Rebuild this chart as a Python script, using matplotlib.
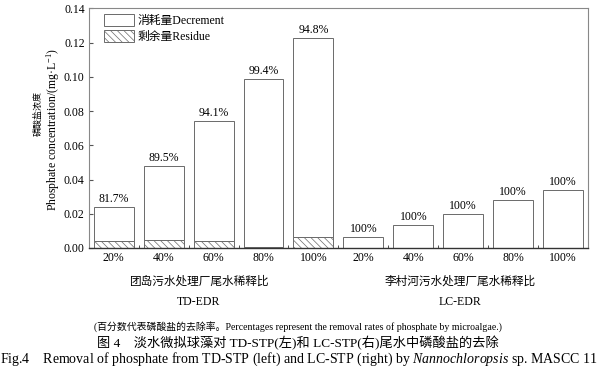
import numpy as np
import matplotlib.pyplot as plt
from matplotlib.patches import Patch

plt.rcParams['font.family'] = ['Liberation Serif', 'Noto Sans CJK SC']
plt.rcParams['mathtext.fontset'] = 'custom'
plt.rcParams['mathtext.it'] = 'Liberation Serif:italic'
plt.rcParams['mathtext.rm'] = 'Liberation Serif'
plt.rcParams['hatch.color'] = '#c4c4c4'
plt.rcParams['hatch.linewidth'] = 0.5

# data (mg/L)
ratios = ['20%', '40%', '60%', '80%', '100%']
td_total = [0.0238, 0.0480, 0.0743, 0.0987, 0.1226]
td_residue = [0.0038, 0.0048, 0.0038, 0.0006, 0.0062]
td_rates = ['81.7%', '89.5%', '94.1%', '99.4%', '94.8%']
lc_total = [0.0066, 0.0135, 0.0197, 0.0281, 0.0339]
lc_residue = [0.0, 0.0, 0.0, 0.0, 0.0]
lc_rates = ['100%', '100%', '100%', '100%', '100%']

total = np.array(td_total + lc_total)
residue = np.array(td_residue + lc_residue)
decrement = total - residue
rates = td_rates + lc_rates
xlabels = ratios + ratios
x = np.arange(len(total))

edge = '#6a6a6a'
W, H = 600, 369
fig = plt.figure(figsize=(6, 3.69), dpi=100)
ax = fig.add_axes([0.148, 0.328, 0.832, 0.649])

ax.bar(x, residue, width=0.8, color='white', edgecolor=edge, hatch='\\\\\\\\\\', linewidth=0.7)
ax.bar(x, decrement, bottom=residue, width=0.8, color='white', edgecolor=edge, linewidth=0.7)

for xi, top, lab in zip(x, total, rates):
    ax.annotate(lab, (xi, top), xytext=(0, 1.5), textcoords='offset points',
                ha='center', va='bottom', fontsize=8.5)

ax.set_xlim(-0.5, 9.5)
ax.set_ylim(0, 0.14)
yt = np.arange(0, 0.141, 0.02)
ax.set_yticks(yt)
ax.set_yticklabels([f'{v:.2f}' for v in yt], fontsize=8.5)
ax.set_xticks(x)
ax.set_xticklabels(xlabels, fontsize=8.5)
ax.set_xticks(np.arange(0.5, 9.5, 1), minor=True)
ax.tick_params(axis='x', which='major', length=0, pad=3)
ax.tick_params(axis='x', which='minor', direction='in', length=2, color='#333333')
ax.tick_params(axis='y', direction='in', length=3, color='#555555', pad=3)
for side in ['top', 'right', 'left']:
    ax.spines[side].set_color('#888888')
    ax.spines[side].set_linewidth(0.8)
ax.spines['bottom'].set_color('#333333')
ax.spines['bottom'].set_linewidth(1.0)

# two-part y label
fig.text(38 / W, 1 - 113 / H, '磷酸盐浓度', rotation=90, ha='center', va='center', fontsize=6.5)
fig.text(53 / W, 1 - 130 / H, 'Phosphate concentration/(mg·L$^{-1}$)', rotation=90,
         ha='center', va='center', fontsize=8.5)

handles = [Patch(facecolor='white', edgecolor=edge, linewidth=0.7),
           Patch(facecolor='white', edgecolor=edge, hatch='\\\\\\\\\\', linewidth=0.7)]
ax.legend(handles, ['消耗量Decrement', '剩余量Residue'], loc='upper left',
          bbox_to_anchor=(0.01, 1.02), frameon=False, fontsize=8.5,
          handlelength=2.5, handleheight=1.2, handletextpad=0.3, labelspacing=0.2)

# group labels under the axis
trans = ax.get_xaxis_transform()
ax.text(1.7, -0.14, '团岛污水处理厂尾水稀释比', transform=trans, ha='center', va='center', fontsize=8.4)
ax.text(1.7, -0.225, 'TD-EDR', transform=trans, ha='center', va='center', fontsize=8.5)
ax.text(6.94, -0.14, '李村河污水处理厂尾水稀释比', transform=trans, ha='center', va='center', fontsize=8.4)
ax.text(6.94, -0.225, 'LC-EDR', transform=trans, ha='center', va='center', fontsize=8.5)

# captions
fig.text(0.497, 1 - 327 / H, '(百分数代表磷酸盐的去除率。Percentages represent the removal rates of phosphate by microalgae.)',
         ha='center', va='center', fontsize=7.1)
fig.text(0.497, 1 - 343 / H, '图 4    淡水微拟球藻对 TD-STP(左)和 LC-STP(右)尾水中磷酸盐的去除',
         ha='center', va='center', fontsize=9.5)
fig.text(0.0, 1 - 359 / H,
         'Fig.4    Removal of phosphate from TD-STP (left) and LC-STP (right) by $\\mathit{Nannochloropsis}$ sp. MASCC 11',
         ha='left', va='center', fontsize=10)

fig.savefig('out.png', dpi=100)
